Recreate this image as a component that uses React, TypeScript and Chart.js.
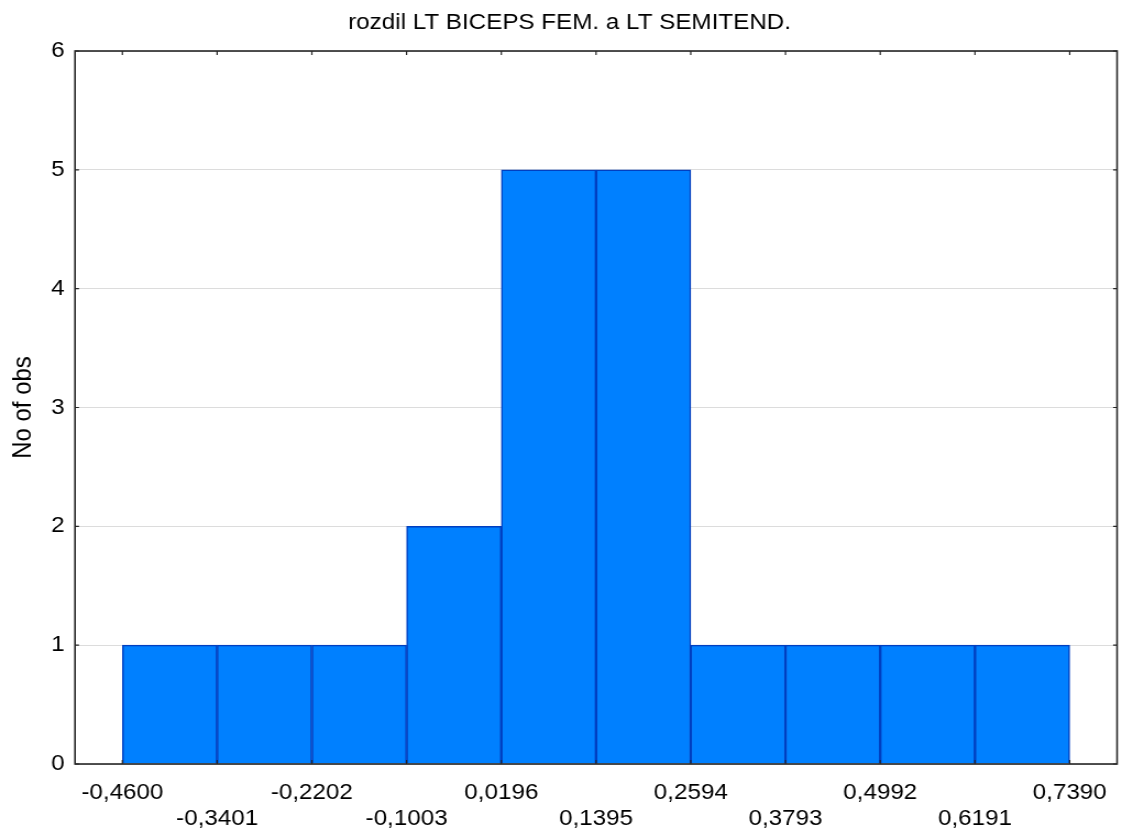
import React, { useEffect, useRef } from "react";
import { Chart, registerables } from "chart.js";

Chart.register(...registerables);

const TITLE = "rozdil LT BICEPS FEM. a LT SEMITEND.";
const Y_TITLE = "No of obs";
const EDGES = [-0.46, -0.3401, -0.2202, -0.1003, 0.0196, 0.1395, 0.2594, 0.3793, 0.4992, 0.6191, 0.739];
const EDGE_LABELS = ["-0,4600", "-0,3401", "-0,2202", "-0,1003", "0,0196", "0,1395", "0,2594", "0,3793", "0,4992", "0,6191", "0,7390"];
const COUNTS = [1, 1, 1, 2, 5, 5, 1, 1, 1, 1];
const Y_MIN = 0;
const Y_MAX = 6;

const FONT = "'Liberation Sans', Arial, sans-serif";
const STRETCH = 1.1;
const W = 1122;
const H = 836;
const CW = Math.round(W / STRETCH);

const framePlugin = {
  id: "frame",
  afterDatasetsDraw(chart: any) {
    const { ctx, chartArea, scales } = chart;
    const { left, right, top, bottom } = chartArea;
    const x = scales.x;
    const y = scales.y;
    ctx.save();
    ctx.strokeStyle = "#262626";
    ctx.lineWidth = 1.6;
    ctx.strokeRect(left, top, right - left, bottom - top);
    ctx.lineWidth = 1.2;
    ctx.beginPath();
    x.ticks.forEach((t: any) => {
      const px = x.getPixelForValue(t.value);
      ctx.moveTo(px, bottom);
      ctx.lineTo(px, bottom - 4);
      ctx.moveTo(px, top);
      ctx.lineTo(px, top + 4);
    });
    y.ticks.forEach((t: any) => {
      const py = y.getPixelForValue(t.value);
      ctx.moveTo(left, py);
      ctx.lineTo(left + 3.6, py);
      ctx.moveTo(right, py);
      ctx.lineTo(right - 3.6, py);
    });
    ctx.stroke();
    ctx.restore();
  },
};

export default function App() {
  const ref = useRef<HTMLCanvasElement>(null);
  useEffect(() => {
    const half = (EDGES[1] - EDGES[0]) / 2;
    const xMin = EDGES[0] - half;
    const xMax = EDGES[EDGES.length - 1] + half;
    const points = COUNTS.map((c, i) => ({ x: (EDGES[i] + EDGES[i + 1]) / 2, y: c }));
    const chart = new Chart(ref.current as HTMLCanvasElement, {
      type: "bar",
      data: {
        datasets: [
          {
            data: points as any,
            backgroundColor: "#0080ff",
            borderColor: "#003fc0",
            borderWidth: 1.5,
            barPercentage: 1,
            categoryPercentage: 1,
          },
        ],
      },
      plugins: [framePlugin],
      options: {
        responsive: false,
        animation: false,
        devicePixelRatio: 1,
        layout: { padding: { left: 20, right: 4.5, top: 0, bottom: 0 } },
        plugins: {
          legend: { display: false },
          tooltip: { enabled: false },
          title: {
            display: true,
            text: TITLE,
            color: "#000",
            font: { family: FONT, size: 22, weight: "normal", lineHeight: 1.2 },
            padding: { top: 10, bottom: 14.6 },
          },
        },
        scales: {
          x: {
            type: "linear",
            min: xMin,
            max: xMax,
            offset: false,
            afterBuildTicks: (scale: any) => {
              scale.ticks = EDGES.map((v) => ({ value: v }));
            },
            afterFit: (scale: any) => {
              scale.height = 72;
            },
            ticks: {
              autoSkip: false,
              maxRotation: 0,
              minRotation: 0,
              padding: 7.5,
              color: "#000",
              font: { family: FONT, size: 22, lineHeight: 1.2 },
              callback: (_v: any, i: number) => (i % 2 ? ["", EDGE_LABELS[i]] : EDGE_LABELS[i]),
            },
            grid: { display: false, offset: false },
            border: { display: false },
          },
          y: {
            min: Y_MIN,
            max: Y_MAX,
            afterFit: (scale: any) => {
              scale.width = 48.2;
            },
            ticks: {
              stepSize: 1,
              padding: 9.5,
              color: "#000",
              font: { family: FONT, size: 22 },
            },
            grid: { color: "#dcdcdc", lineWidth: 1, drawTicks: false },
            border: { display: false },
            title: {
              display: true,
              text: Y_TITLE,
              color: "#000",
              font: { family: FONT, size: 24, lineHeight: 1.2 },
              padding: { top: -12.9, bottom: 0 },
            },
          },
        },
      } as any,
    });
    return () => chart.destroy();
  }, []);
  return (
    <div style={{ position: "absolute", left: 0, top: 0, width: W, height: H, background: "#fff" }}>
      <canvas ref={ref} width={CW} height={H} style={{ width: W + "px", height: H + "px", display: "block" }} />
    </div>
  );
}
